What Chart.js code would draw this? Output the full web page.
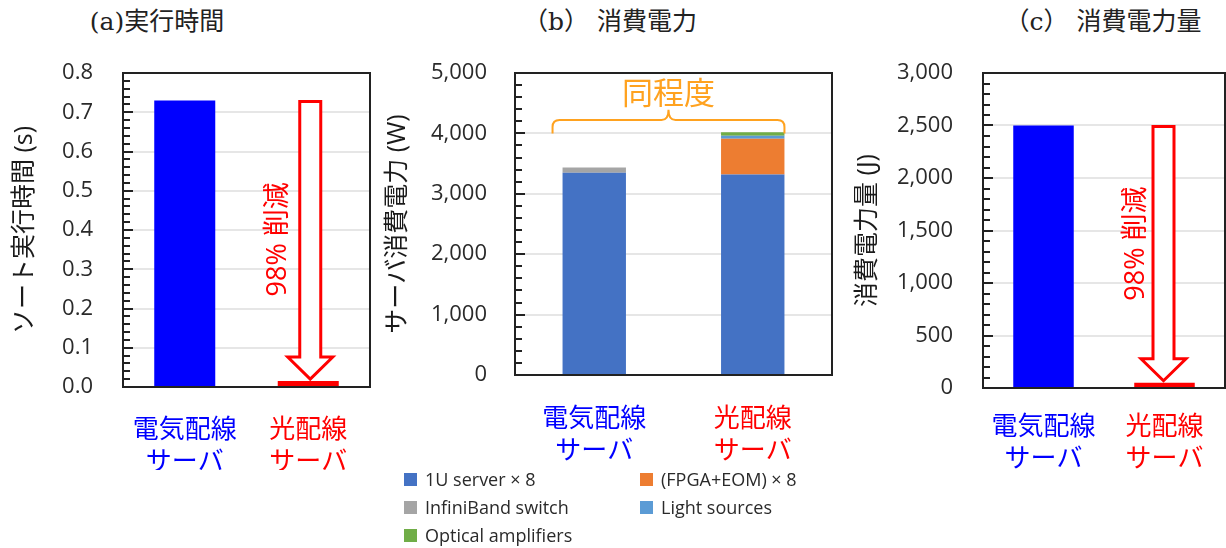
<!DOCTYPE html>
<html lang="ja">
<head>
<meta charset="utf-8">
<title>光配線サーバ 評価</title>
<script src="https://cdn.jsdelivr.net/npm/chart.js@4.4.1/dist/chart.umd.min.js"></script>
<style>
  html, body { margin: 0; padding: 0; background: #fff; }
  #wrap { position: relative; width: 1226px; height: 548px; overflow: hidden; }
  .panel { position: absolute; top: 0; height: 470px; }
  .caption {
    position: absolute; top: 4px; transform: translateX(-50%); white-space: nowrap;
    font-family: 'DejaVu Serif', 'Noto Sans CJK JP', serif; font-size: 25px; line-height: 36px; color: #222;
  }
  #legend {
    position: absolute; left: 404px; top: 465px;
    display: grid; grid-template-columns: 236px 190px; grid-auto-rows: 28px;
    font-family: 'Open Sans', 'Noto Sans CJK JP', sans-serif; font-size: 18px; color: #2a2a2a;
  }
  #legend span.item { display: flex; align-items: center; white-space: nowrap; }
  #legend i { display: inline-block; width: 13px; height: 13px; margin-right: 8px; }
</style>
</head>
<body>
<div id="wrap">
  <div class="caption" style="left:157px">(a)実行時間</div>
  <div class="caption" style="left:610px">（b） 消費電力</div>
  <div class="caption" style="left:1103px">（c） 消費電力量</div>

  <div class="panel" style="left:0; width:380px"><canvas id="timeChart"></canvas></div>
  <div class="panel" style="left:380px; width:460px"><canvas id="powerChart"></canvas></div>
  <div class="panel" style="left:840px; width:386px"><canvas id="energyChart"></canvas></div>
  <div id="legend"></div>
</div>

<script>
// 共通の項目
const categories = [['電気配線', 'サーバ'], ['光配線', 'サーバ']];
const categoryColors = ['#0000FF', '#FF0000'];

// (a) ソート実行時間 (s)
const sortTime = [0.73, 0.015];
const timeTickLabels = ['0.0', '0.1', '0.2', '0.3', '0.4', '0.5', '0.6', '0.7', '0.8'];

// (b) サーバ消費電力 (W) 内訳
const powerSeries = ['1U server × 8', '(FPGA+EOM) × 8', 'InfiniBand switch', 'Light sources', 'Optical amplifiers'];
const server1U = [3350, 3320];
const fpgaEom = [0, 590];
const infiniband = [85, 0];
const lightSources = [0, 50];
const opticalAmps = [0, 60];
const powerColors = ['#4472C4', '#ED7D31', '#A5A5A5', '#5B9BD5', '#70AD47'];
const powerTickLabels = ['0', '1,000', '2,000', '3,000', '4,000', '5,000'];

// (c) 消費電力量 (J)
const energy = [2500, 50];
const energyTickLabels = ['0', '500', '1,000', '1,500', '2,000', '2,500', '3,000'];

Chart.defaults.font.family = "'Open Sans', 'Noto Sans CJK JP', sans-serif";
Chart.defaults.color = '#333';

// 枠線と内向きの目盛り
const framePlugin = {
  id: 'frame',
  afterDatasetsDraw(chart, args, opts) {
    const { ctx, chartArea: a, scales: { y } } = chart;
    ctx.save();
    ctx.strokeStyle = '#222';
    ctx.lineWidth = 2;
    const steps = Math.round((y.max - y.min) / opts.minor);
    for (let i = 0; i <= steps; i++) {
      const py = Math.round(y.getPixelForValue(y.min + i * opts.minor));
      const len = i % opts.perMajor === 0 ? 10 : 7;
      ctx.beginPath();
      ctx.moveTo(a.left, py);
      ctx.lineTo(a.left + len, py);
      ctx.stroke();
    }
    ctx.strokeRect(a.left, a.top, a.right - a.left, a.bottom - a.top);
    ctx.restore();
  }
};

// 削減率を示す白抜き矢印
const arrowPlugin = {
  id: 'dropArrow',
  afterDatasetsDraw(chart, args, opts) {
    if (!opts.text) return;
    const { ctx } = chart;
    const bars = chart.getDatasetMeta(0).data;
    const x = bars[1].x + opts.dx;
    const top = bars[0].y + 1;
    const tip = bars[1].y - 2;
    const sw = 10.5, hw = 22.5, hh = 22;
    ctx.save();
    ctx.beginPath();
    ctx.moveTo(x - sw, top);
    ctx.lineTo(x + sw, top);
    ctx.lineTo(x + sw, tip - hh);
    ctx.lineTo(x + hw, tip - hh);
    ctx.lineTo(x, tip);
    ctx.lineTo(x - hw, tip - hh);
    ctx.lineTo(x - sw, tip - hh);
    ctx.closePath();
    ctx.fillStyle = '#fff';
    ctx.fill();
    ctx.strokeStyle = '#FF0000';
    ctx.lineWidth = 3;
    ctx.lineJoin = 'miter';
    ctx.stroke();

    ctx.translate(x + opts.textDx, (top + tip) / 2 + opts.textDy);
    ctx.rotate(-Math.PI / 2);
    ctx.fillStyle = '#FF0000';
    ctx.font = "27px 'Open Sans', 'Noto Sans CJK JP', sans-serif";
    ctx.textAlign = 'center';
    ctx.textBaseline = 'middle';
    ctx.fillText(opts.text, 0, 0);
    ctx.restore();
  }
};

// 「同程度」の波括弧
const bracePlugin = {
  id: 'brace',
  afterDatasetsDraw(chart, args, opts) {
    if (!opts.text) return;
    const { ctx, scales: { y } } = chart;
    const bars = chart.getDatasetMeta(0).data;
    const left = bars[0].x - bars[0].width / 2 - 10;
    const right = bars[1].x + bars[1].width / 2;
    const mid = (left + right) / 2;
    const yEnd = y.getPixelForValue(opts.ends);
    const yLine = y.getPixelForValue(opts.line);
    const yTip = y.getPixelForValue(opts.tip);
    const r = 7;
    ctx.save();
    ctx.strokeStyle = opts.color;
    ctx.lineWidth = 2;
    ctx.beginPath();
    ctx.moveTo(left, yEnd);
    ctx.lineTo(left, yLine + r);
    ctx.quadraticCurveTo(left, yLine, left + r, yLine);
    ctx.lineTo(mid - r, yLine);
    ctx.quadraticCurveTo(mid, yLine, mid, yTip);
    ctx.quadraticCurveTo(mid, yLine, mid + r, yLine);
    ctx.lineTo(right - r, yLine);
    ctx.quadraticCurveTo(right, yLine, right, yLine + r);
    ctx.lineTo(right, yEnd);
    ctx.stroke();
    ctx.fillStyle = opts.color;
    ctx.font = "31px 'Noto Sans CJK JP', sans-serif";
    ctx.textAlign = 'center';
    ctx.textBaseline = 'middle';
    ctx.fillText(opts.text, mid, yTip - 18);
    ctx.restore();
  }
};

function axes(o) {
  return {
    x: {
      stacked: o.stacked || false,
      grid: { display: false },
      border: { display: false },
      afterFit: s => { s.height = o.xHeight; },
      ticks: {
        color: c => categoryColors[c.index],
        font: { size: 26, lineHeight: 1.22 },
        padding: o.xPad,
        maxRotation: 0,
        autoSkip: false
      }
    },
    y: {
      min: o.min, max: o.max,
      stacked: o.stacked || false,
      afterFit: s => { s.width = o.yWidth; },
      border: { display: false },
      grid: {
        drawTicks: false,
        lineWidth: 2,
        color: c => (c.tick && c.tick.value === 0) ? 'rgba(0,0,0,0)' : '#E6E6E6'
      },
      ticks: {
        stepSize: o.step,
        padding: o.yPad,
        font: { size: 22 },
        color: '#2a2a2a',
        callback: (v, i) => o.labels[i]
      },
      title: {
        display: true,
        text: o.title,
        color: '#1a1a1a',
        font: { size: 25, lineHeight: 1.2 },
        padding: { top: o.titlePad, bottom: 0 }
      }
    }
  };
}

function baseOptions(o) {
  return {
    responsive: true,
    maintainAspectRatio: false,
    animation: false,
    events: [],
    layout: { padding: { top: 73, right: o.right, left: 0, bottom: 0 } },
    plugins: {
      legend: { display: false },
      tooltip: { enabled: false },
      frame: { minor: o.minor, perMajor: o.perMajor },
      dropArrow: o.arrow || {},
      brace: o.brace || {}
    },
    scales: axes(o)
  };
}

const plugins = [framePlugin, arrowPlugin, bracePlugin];

// (a) 実行時間
new Chart(document.getElementById('timeChart'), {
  type: 'bar',
  data: {
    labels: categories,
    datasets: [{
      data: sortTime,
      backgroundColor: categoryColors,
      barPercentage: 1,
      categoryPercentage: 0.494
    }]
  },
  options: baseOptions({
    min: 0, max: 0.8, step: 0.1, minor: 0.02, perMajor: 5,
    labels: timeTickLabels, title: 'ソート実行時間 (s)',
    yWidth: 123, yPad: 30, titlePad: 10, xHeight: 83, xPad: 20, right: 10,
    arrow: { text: '98% 削減', dx: 2, textDx: -32, textDy: -1 }
  }),
  plugins
});

// (b) 消費電力 内訳の積み上げ
const powerData = [server1U, fpgaEom, infiniband, lightSources, opticalAmps];
const powerChart = new Chart(document.getElementById('powerChart'), {
  type: 'bar',
  data: {
    labels: categories,
    datasets: powerSeries.map((name, i) => ({
      label: name,
      data: powerData[i],
      backgroundColor: powerColors[i],
      barPercentage: 1,
      categoryPercentage: 0.4
    }))
  },
  options: baseOptions({
    min: 0, max: 5000, step: 1000, minor: 200, perMajor: 5, stacked: true,
    labels: powerTickLabels, title: 'サーバ消費電力 (W)',
    yWidth: 135, yPad: 28, titlePad: 3, xHeight: 95, xPad: 21, right: 8,
    brace: { text: '同程度', color: '#FFA21F', ends: 4000, line: 4220, tip: 4390 }
  }),
  plugins
});

// 凡例（2列）
const legendEl = document.getElementById('legend');
powerChart.data.datasets.forEach(ds => {
  const item = document.createElement('span');
  item.className = 'item';
  const box = document.createElement('i');
  box.style.background = ds.backgroundColor;
  item.appendChild(box);
  item.appendChild(document.createTextNode(ds.label));
  legendEl.appendChild(item);
});

// (c) 消費電力量
new Chart(document.getElementById('energyChart'), {
  type: 'bar',
  data: {
    labels: categories,
    datasets: [{
      data: energy,
      backgroundColor: categoryColors,
      barPercentage: 1,
      categoryPercentage: 0.5
    }]
  },
  options: baseOptions({
    min: 0, max: 3000, step: 500, minor: 100, perMajor: 5,
    labels: energyTickLabels, title: '消費電力量 (J)',
    yWidth: 143, yPad: 30, titlePad: 13, xHeight: 82, xPad: 16, right: 1,
    arrow: { text: '98% 削減', dx: -1, textDx: -27, textDy: -10 }
  }),
  plugins
});
</script>
</body>
</html>
